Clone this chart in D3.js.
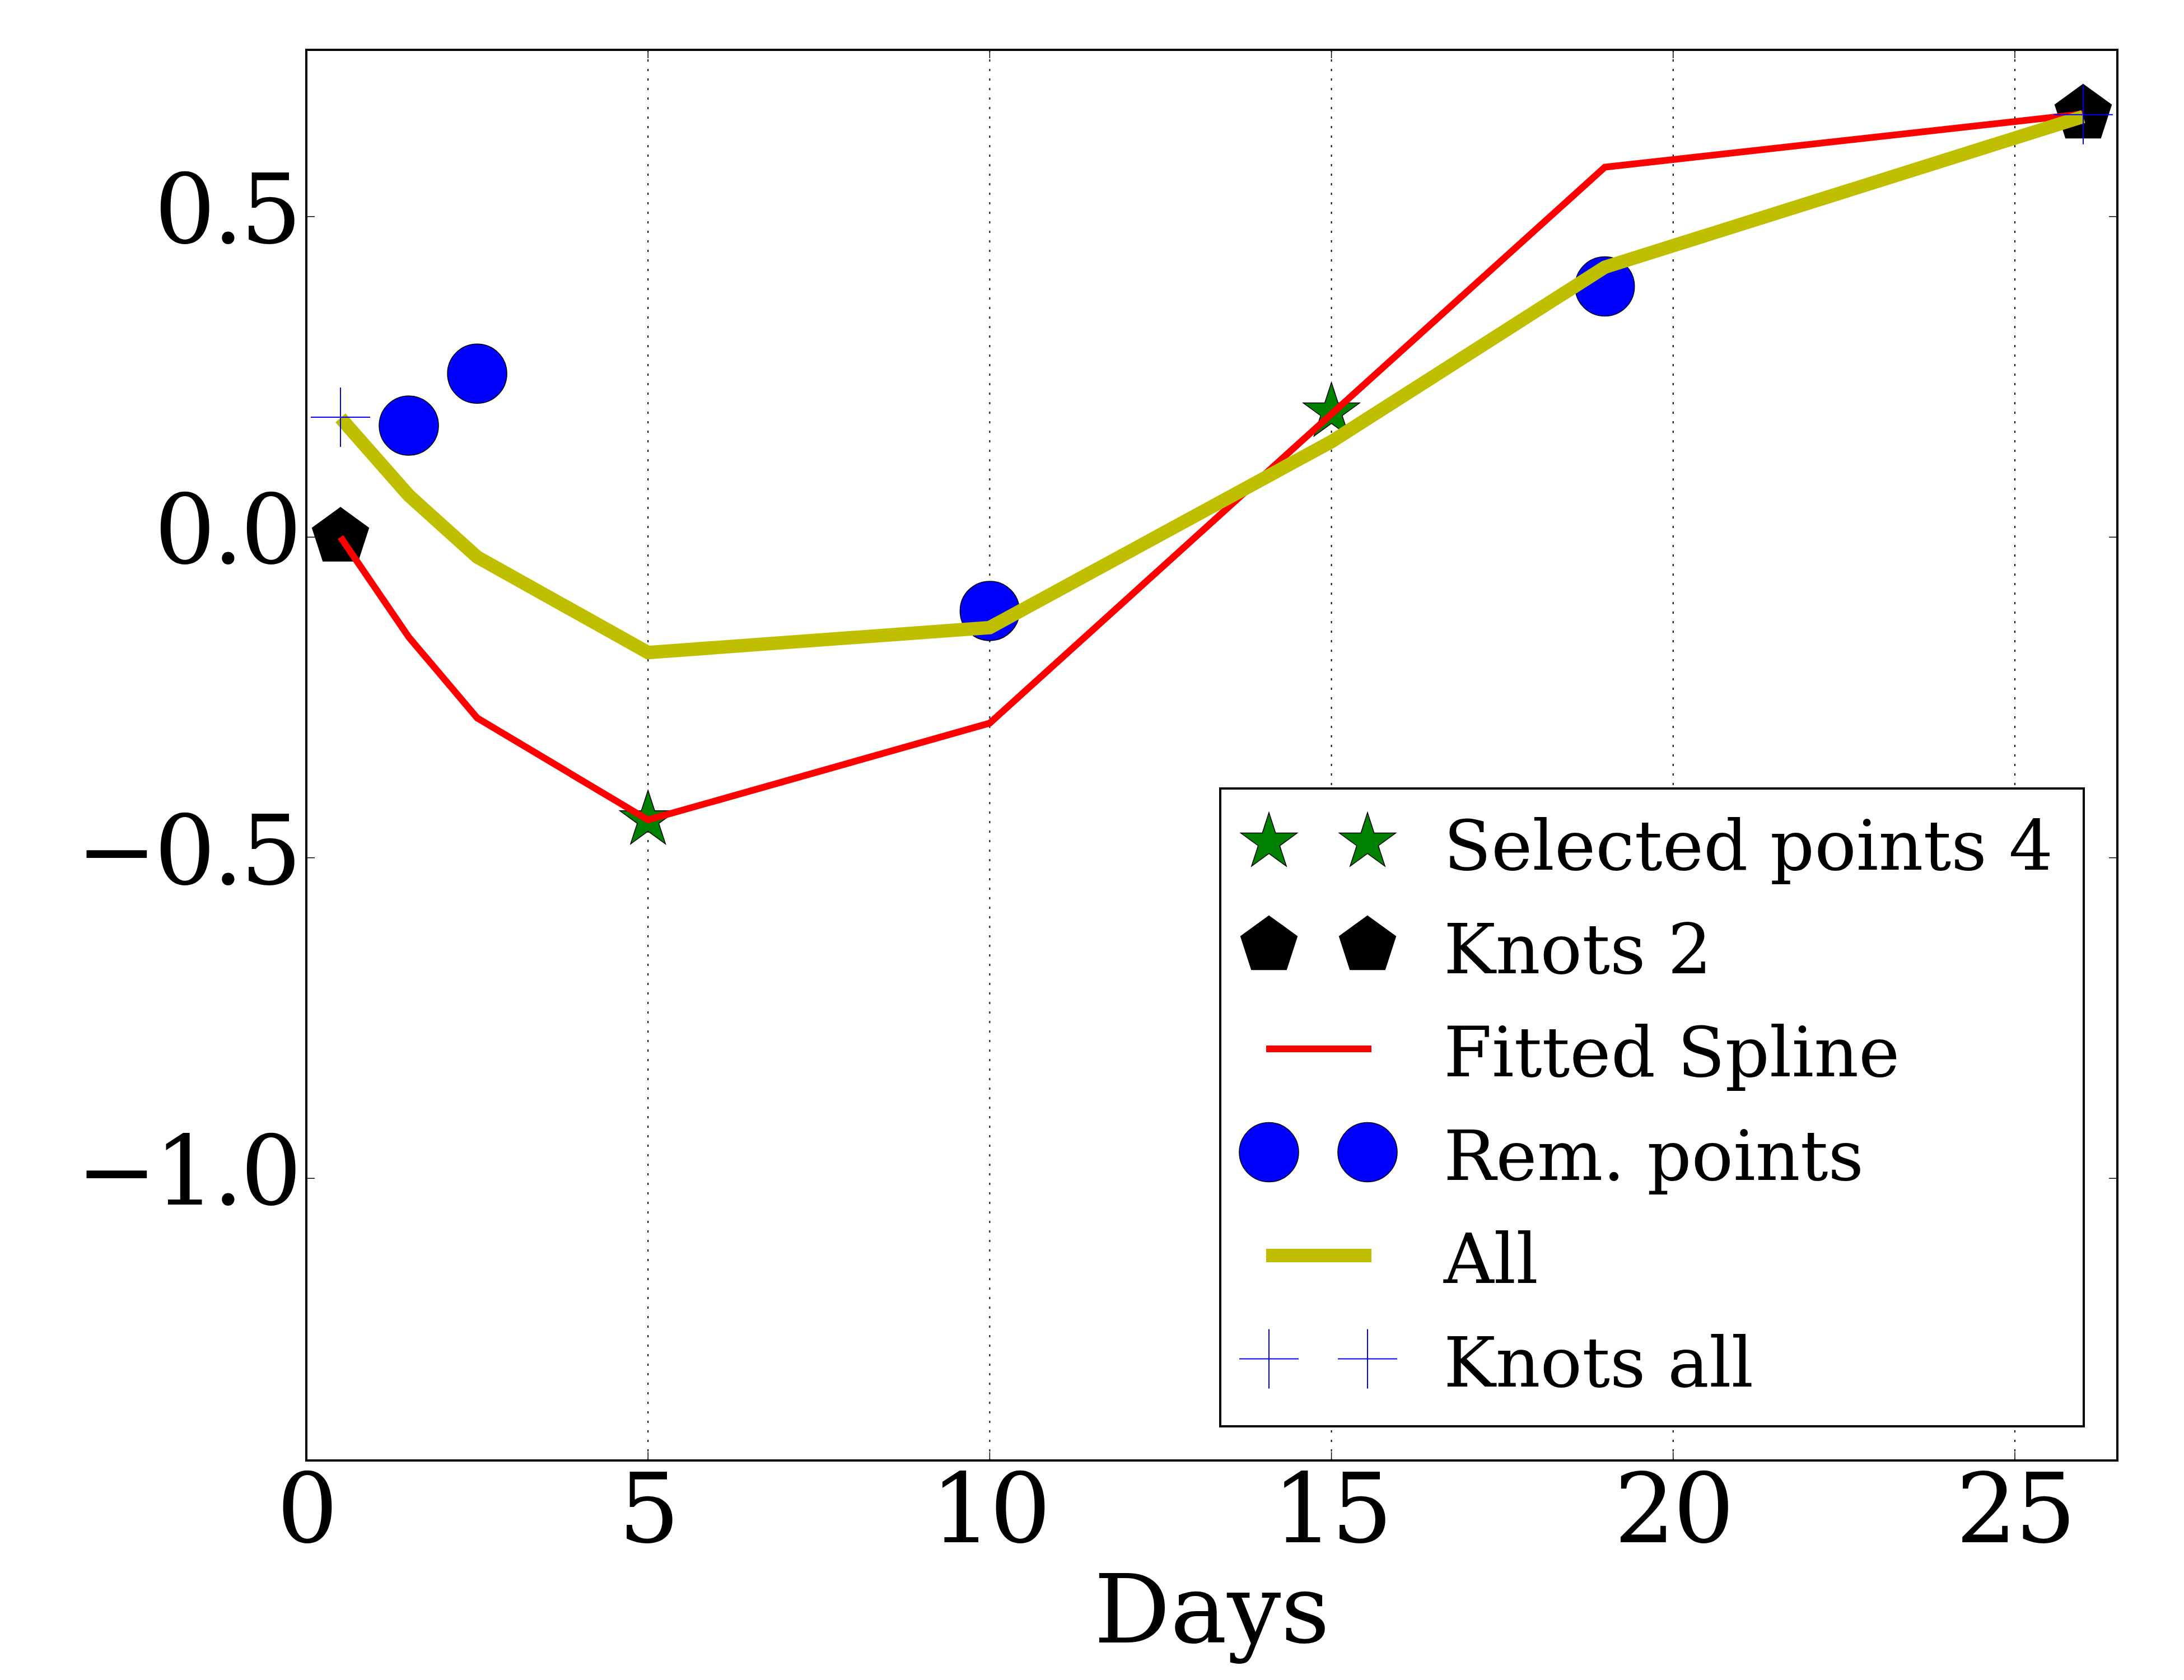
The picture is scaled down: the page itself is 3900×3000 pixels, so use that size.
<!DOCTYPE html>
<html>
<head>
<meta charset="utf-8">
<script src="https://cdn.jsdelivr.net/npm/d3@7"></script>
<style>
  body { margin: 0; background: #fff; }
  text { font-family: "DejaVu Serif", serif; }
</style>
</head>
<body>
<svg width="3900" height="3000"></svg>
<script>
// data
const days = [0.5, 1.5, 2.5, 5, 10, 15, 19, 26]
const allValues = [0.186, 0.065, -0.031, -0.180, -0.141, 0.149, 0.421, 0.656]
const splineValues = [0, -0.156, -0.282, -0.441, -0.290, 0.192, 0.577, 0.660]

const selectedDays = [5, 15]
const selectedValues = [-0.441, 0.195]

const knotDays = [0.5, 26]
const knotValues = [0, 0.660]

const remDays = [1.5, 2.5, 10, 19]
const remValues = [0.174, 0.255, -0.115, 0.391]

const knotsAllDays = [0.5, 26]
const knotsAllValues = [0.187, 0.659]

const xTicks = [0, 5, 10, 15, 20, 25]
const yTicks = [0.5, 0.0, -0.5, -1.0]
const legendLabels = ["Selected points 4", "Knots 2", "Fitted Spline", "Rem. points", "All", "Knots all"]

const svg = d3.select("svg")
svg.append("rect").attr("width", 3900).attr("height", 3000).attr("fill", "#fff")

const x = d3.scaleLinear().domain([0, 26.5]).range([547, 3781])
const y = d3.scaleLinear().domain([-1.44, 0.76]).range([2608, 89])

const yellow = "#bfbf00"
const markR = 53
const redW = 12
const yellowW = 24

// regular polygon / star paths, pointing up
function starPath(r) {
  const pts = []
  for (let i = 0; i < 10; i++) {
    const rr = i % 2 == 0 ? r : r * 0.381966
    const a = -Math.PI / 2 + i * Math.PI / 5
    pts.push([rr * Math.cos(a), rr * Math.sin(a)])
  }
  return "M" + pts.map(p => p.join(",")).join("L") + "Z"
}
function pentagonPath(r) {
  const pts = []
  for (let i = 0; i < 5; i++) {
    const a = -Math.PI / 2 + i * 2 * Math.PI / 5
    pts.push([r * Math.cos(a), r * Math.sin(a)])
  }
  return "M" + pts.map(p => p.join(",")).join("L") + "Z"
}
function plusPath(r) {
  return `M${-r},0L${r},0M0,${-r}L0,${r}`
}

// grid
svg.append("g")
  .selectAll("line")
  .data(xTicks.filter(d => d > 0))
  .enter()
  .append("line")
  .attr("x1", d => x(d)).attr("x2", d => x(d))
  .attr("y1", y(0.76)).attr("y2", y(-1.44))
  .attr("stroke", "#000")
  .attr("stroke-width", 2)
  .attr("stroke-dasharray", "4,13")

const plot = svg.append("g")

const drawMarkers = (xs, ys, path, fill, stroke, sw) => {
  plot.append("g")
    .selectAll("path")
    .data(xs.map((d, i) => [d, ys[i]]))
    .enter()
    .append("path")
    .attr("d", path)
    .attr("transform", d => `translate(${x(d[0])},${y(d[1])})`)
    .attr("fill", fill)
    .attr("stroke", stroke)
    .attr("stroke-width", sw)
}

const line = d3.line().x(d => x(d[0])).y(d => y(d[1]))

drawMarkers(selectedDays, selectedValues, starPath(markR), "#008000", "#000", 1.5)
drawMarkers(knotDays, knotValues, pentagonPath(markR), "#000", "#000", 1.5)

plot.append("path")
  .attr("d", line(days.map((d, i) => [d, splineValues[i]])))
  .attr("fill", "none")
  .attr("stroke", "#ff0000")
  .attr("stroke-width", redW)
  .attr("stroke-linejoin", "miter")

plot.append("g")
  .selectAll("circle")
  .data(remDays.map((d, i) => [d, remValues[i]]))
  .enter()
  .append("circle")
  .attr("cx", d => x(d[0]))
  .attr("cy", d => y(d[1]))
  .attr("r", markR)
  .attr("fill", "#0000ff")
  .attr("stroke", "#000")
  .attr("stroke-width", 1.5)

plot.append("path")
  .attr("d", line(days.map((d, i) => [d, allValues[i]])))
  .attr("fill", "none")
  .attr("stroke", yellow)
  .attr("stroke-width", yellowW)
  .attr("stroke-linejoin", "miter")

drawMarkers(knotsAllDays, knotsAllValues, plusPath(markR), "none", "#0000ff", 2)

// frame + ticks
const axisG = svg.append("g")
axisG.append("rect")
  .attr("x", x(0)).attr("y", y(0.76))
  .attr("width", x(26.5) - x(0)).attr("height", y(-1.44) - y(0.76))
  .attr("fill", "none").attr("stroke", "#000").attr("stroke-width", 4)

yTicks.forEach(t => {
  axisG.append("line").attr("x1", x(0)).attr("x2", x(0) + 15)
    .attr("y1", y(t)).attr("y2", y(t)).attr("stroke", "#000").attr("stroke-width", 1.5)
  axisG.append("line").attr("x1", x(26.5)).attr("x2", x(26.5) - 15)
    .attr("y1", y(t)).attr("y2", y(t)).attr("stroke", "#000").attr("stroke-width", 1.5)
  axisG.append("text")
    .attr("x", x(0) - 13)
    .attr("y", y(t) + 47)
    .attr("text-anchor", "end")
    .attr("font-size", 172)
    .attr("letter-spacing", -5)
    .text(d3.format(".1f")(t).replace("-", "\u2212"))
})
xTicks.forEach(t => {
  axisG.append("line").attr("x1", x(t)).attr("x2", x(t))
    .attr("y1", y(-1.44)).attr("y2", y(-1.44) - 15).attr("stroke", "#000").attr("stroke-width", 1.5)
  axisG.append("line").attr("x1", x(t)).attr("x2", x(t))
    .attr("y1", y(0.76)).attr("y2", y(0.76) + 15).attr("stroke", "#000").attr("stroke-width", 1.5)
  axisG.append("text")
    .attr("x", x(t))
    .attr("y", y(-1.44) + 146)
    .attr("text-anchor", "middle")
    .attr("font-size", 172)
    .attr("letter-spacing", -4)
    .text(t)
})

svg.append("text")
  .attr("x", (x(0) + x(26.5)) / 2)
  .attr("y", 2933)
  .attr("text-anchor", "middle")
  .attr("font-size", 170)
  .text("Days")

// legend
const legend = svg.append("g")
legend.append("rect")
  .attr("x", 2179).attr("y", 1408).attr("width", 1542).attr("height", 1139)
  .attr("fill", "#fff").attr("stroke", "#000").attr("stroke-width", 4)

const rowY = i => 1504 + i * 184.5
const mx = [2266, 2442]
legendLabels.forEach((label, i) => {
  const g = legend.append("g").attr("transform", `translate(0,${rowY(i)})`)
  if (i == 0 || i == 1 || i == 5) {
    const p = i == 0 ? starPath(markR) : i == 1 ? pentagonPath(markR) : plusPath(markR)
    mx.forEach(xx => {
      g.append("path").attr("d", p).attr("transform", `translate(${xx},0)`)
        .attr("fill", i == 0 ? "#008000" : i == 1 ? "#000" : "none")
        .attr("stroke", i == 5 ? "#0000ff" : "#000")
        .attr("stroke-width", i == 5 ? 2 : 1.5)
    })
  } else if (i == 3) {
    mx.forEach(xx => {
      g.append("circle").attr("cx", xx).attr("cy", 0).attr("r", markR)
        .attr("fill", "#0000ff").attr("stroke", "#000").attr("stroke-width", 1.5)
    })
  } else {
    g.append("line").attr("x1", 2261).attr("x2", 2449).attr("y1", 0).attr("y2", 0)
      .attr("stroke", i == 2 ? "#ff0000" : yellow)
      .attr("stroke-width", i == 2 ? redW : yellowW)
  }
  g.append("text")
    .attr("x", 2578)
    .attr("y", 49)
    .attr("font-size", 124)
    .text(label)
})
</script>
</body>
</html>
